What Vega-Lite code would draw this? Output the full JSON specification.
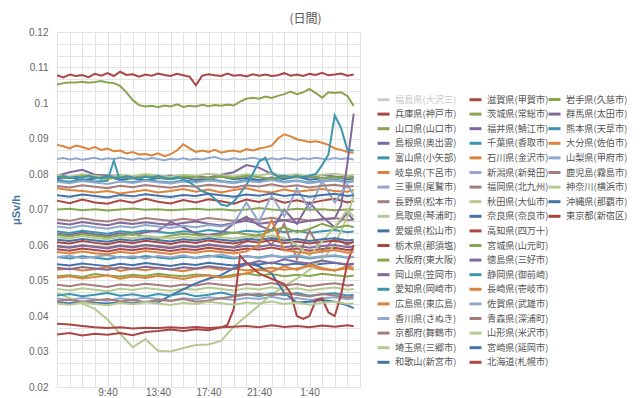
{
"$schema": "https://vega.github.io/schema/vega-lite/v6.json",
"width": 303, "height": 355,
"autosize": {"type": "none"},
"padding": {"left": 57, "top": 32, "right": 280, "bottom": 11},
"background": "white",
"config": {"view": {"stroke": "#e3e3e3"}, "font": "Liberation Sans",
 "legend": {"symbolType": "stroke", "symbolSize": 144, "symbolStrokeWidth": 3, "symbolLimit": 100, "labelFont": "Noto Sans CJK JP", "labelFontSize": 9.2, "labelColor": "#555555", "labelOffset": 4, "labelLimit": 80, "columnPadding": 6, "rowPadding": 0.6}},
"title": {"text": "(日間)", "anchor": "middle", "frame": "group", "dx": 97, "offset": 1, "fontSize": 12, "font": "Noto Sans CJK JP", "fontWeight": "normal", "color": "#555555"},
"data": {"values": [
{"s":"兵庫県(神戸市)","5:40":0.0725,"6:40":0.0718,"7:40":0.0728,"8:40":0.072,"9:40":0.0716,"10:40":0.0726,"11:40":0.0719,"12:40":0.073,"13:40":0.0722,"14:40":0.0717,"15:40":0.0727,"16:40":0.072,"17:40":0.0729,"18:40":0.0723,"19:40":0.0716,"20:40":0.0728,"21:40":0.0721,"22:40":0.0731,"23:40":0.0719,"0:40":0.0726,"1:40":0.0718,"2:40":0.0725,"3:40":0.073,"4:40":0.072,"5:10":0.0724},
{"s":"山口県(山口市)","5:40":0.1052,"6:10":0.1056,"6:40":0.1058,"7:10":0.1058,"7:40":0.106,"8:10":0.1057,"8:40":0.1059,"9:10":0.1062,"9:40":0.1058,"10:10":0.1056,"10:40":0.1048,"11:10":0.103,"11:40":0.1008,"12:10":0.0994,"12:40":0.099,"13:10":0.0992,"13:40":0.0988,"14:10":0.0993,"14:40":0.099,"15:10":0.0996,"15:40":0.0989,"16:10":0.0992,"16:40":0.099,"17:10":0.0995,"17:40":0.0991,"18:10":0.0994,"18:40":0.0992,"19:10":0.0996,"19:40":0.0993,"20:10":0.1004,"20:40":0.1012,"21:10":0.1015,"21:40":0.1012,"22:10":0.1018,"22:40":0.1014,"23:10":0.102,"23:40":0.1025,"0:10":0.1032,"0:40":0.1025,"1:10":0.103,"1:40":0.104,"2:10":0.1028,"2:40":0.1015,"3:10":0.103,"3:40":0.1028,"4:10":0.103,"4:40":0.102,"5:10":0.0992},
{"s":"島根県(奥出雲)","5:40":0.0795,"6:40":0.0805,"7:40":0.0812,"8:40":0.0798,"9:40":0.0796,"10:40":0.0795,"11:40":0.079,"12:40":0.0793,"13:40":0.079,"14:40":0.0796,"15:40":0.0789,"16:40":0.0793,"17:40":0.079,"18:40":0.0798,"19:40":0.0805,"20:40":0.0825,"21:40":0.0818,"22:40":0.08,"23:40":0.0792,"0:40":0.0795,"1:40":0.079,"2:40":0.0797,"3:40":0.0793,"4:40":0.079,"5:10":0.0792},
{"s":"富山県(小矢部)","5:40":0.0638,"6:40":0.0634,"7:40":0.064,"8:40":0.0636,"9:40":0.0632,"10:40":0.0639,"11:40":0.0635,"12:40":0.0641,"13:40":0.0637,"14:40":0.0633,"15:40":0.0639,"16:40":0.0636,"17:40":0.0642,"18:40":0.0638,"19:40":0.0634,"20:40":0.064,"21:40":0.0637,"22:40":0.0643,"23:40":0.0636,"0:40":0.064,"1:40":0.0634,"2:40":0.0639,"3:40":0.0642,"4:40":0.0636,"5:10":0.0638},
{"s":"岐阜県(下呂市)","5:40":0.0882,"6:10":0.0878,"6:40":0.0872,"7:10":0.088,"7:40":0.0876,"8:10":0.087,"8:40":0.0876,"9:10":0.0868,"9:40":0.0872,"10:10":0.0864,"10:40":0.0866,"11:10":0.0858,"11:40":0.0862,"12:10":0.0855,"12:40":0.0856,"13:10":0.0852,"13:40":0.0858,"14:10":0.085,"14:40":0.0856,"15:10":0.0866,"15:40":0.0884,"16:10":0.0872,"16:40":0.0862,"17:10":0.0866,"17:40":0.0862,"18:10":0.0868,"18:40":0.086,"19:10":0.0864,"19:40":0.0866,"20:10":0.0862,"20:40":0.087,"21:10":0.0866,"21:40":0.0872,"22:10":0.0875,"22:40":0.088,"23:10":0.09,"23:40":0.0912,"0:10":0.0906,"0:40":0.0898,"1:10":0.0894,"1:40":0.089,"2:10":0.0892,"2:40":0.0888,"3:10":0.0882,"3:40":0.0872,"4:10":0.0868,"4:40":0.0862,"5:10":0.086},
{"s":"三重県(尾鷲市)","5:40":0.0842,"6:10":0.0845,"6:40":0.0841,"7:10":0.0844,"7:40":0.084,"8:10":0.0843,"8:40":0.0846,"9:10":0.0841,"9:40":0.0844,"10:10":0.0842,"10:40":0.0846,"11:10":0.0843,"11:40":0.084,"12:10":0.0844,"12:40":0.0841,"13:10":0.0845,"13:40":0.0842,"14:10":0.0839,"14:40":0.0843,"15:10":0.0841,"15:40":0.0844,"16:10":0.084,"16:40":0.0843,"17:10":0.0841,"17:40":0.0845,"18:10":0.0848,"18:40":0.0842,"19:10":0.084,"19:40":0.0844,"20:10":0.0841,"20:40":0.0843,"21:10":0.0846,"21:40":0.0842,"22:10":0.084,"22:40":0.0844,"23:10":0.0841,"23:40":0.0845,"0:10":0.0843,"0:40":0.084,"1:10":0.0844,"1:40":0.0842,"2:10":0.0846,"2:40":0.0843,"3:10":0.0841,"3:40":0.0845,"4:10":0.0842,"4:40":0.0844,"5:10":0.0841},
{"s":"長野県(松本市)","5:40":0.0672,"6:40":0.0668,"7:40":0.0675,"8:40":0.067,"9:40":0.0666,"10:40":0.0673,"11:40":0.0669,"12:40":0.0676,"13:40":0.0672,"14:40":0.0668,"15:40":0.0674,"16:40":0.067,"17:40":0.0676,"18:40":0.0672,"19:40":0.0668,"20:40":0.0674,"21:40":0.0671,"22:40":0.0677,"23:40":0.067,"0:40":0.0674,"1:40":0.0668,"2:40":0.0673,"3:40":0.0676,"4:40":0.067,"5:10":0.0672},
{"s":"鳥取県(琴浦町)","5:40":0.0797,"6:40":0.0793,"7:40":0.0799,"8:40":0.0795,"9:40":0.0791,"10:40":0.0798,"11:40":0.0794,"12:40":0.08,"13:40":0.0796,"14:40":0.0792,"15:40":0.0798,"16:40":0.0795,"17:40":0.0801,"18:40":0.0797,"19:40":0.0793,"20:40":0.0799,"21:40":0.0796,"22:40":0.0802,"23:40":0.0795,"0:40":0.0799,"1:40":0.0793,"2:40":0.0798,"3:40":0.0801,"4:40":0.0795,"5:10":0.0797},
{"s":"愛媛県(松山市)","5:40":0.0546,"6:40":0.0542,"7:40":0.0548,"8:40":0.0544,"9:40":0.054,"10:40":0.0547,"11:40":0.0543,"12:40":0.0549,"13:40":0.0545,"14:40":0.0541,"15:40":0.0547,"16:40":0.0544,"17:40":0.055,"18:40":0.0546,"19:40":0.0542,"20:40":0.0548,"21:40":0.0545,"22:40":0.0551,"23:40":0.0544,"0:40":0.0548,"1:40":0.0542,"2:40":0.0547,"3:40":0.055,"4:40":0.0544,"5:10":0.0546},
{"s":"栃木県(那須塩)","5:40":0.0588,"6:40":0.0584,"7:40":0.059,"8:40":0.0586,"9:40":0.0582,"10:40":0.0589,"11:40":0.0585,"12:40":0.0591,"13:40":0.0587,"14:40":0.0583,"15:40":0.0589,"16:40":0.0586,"17:40":0.0592,"18:40":0.0588,"19:40":0.0584,"20:40":0.059,"21:40":0.0587,"22:40":0.0593,"23:40":0.0586,"0:40":0.059,"1:40":0.0584,"2:40":0.0589,"3:40":0.0592,"4:40":0.0586,"5:10":0.0588},
{"s":"大阪府(東大阪)","5:40":0.0512,"6:40":0.0515,"7:40":0.051,"8:40":0.0518,"9:40":0.0514,"10:40":0.0511,"11:40":0.0516,"12:40":0.0513,"13:40":0.0519,"14:40":0.0515,"15:40":0.0512,"16:40":0.0517,"17:40":0.0514,"18:40":0.051,"19:40":0.0516,"20:40":0.052,"21:40":0.0514,"22:40":0.0518,"23:40":0.0512,"0:40":0.0516,"1:40":0.0513,"2:40":0.0519,"3:40":0.0515,"4:40":0.0511,"5:10":0.0514},
{"s":"岡山県(笠岡市)","5:40":0.0632,"6:40":0.0628,"7:40":0.0635,"8:40":0.063,"9:40":0.0626,"10:40":0.0633,"11:40":0.0629,"12:40":0.0636,"13:40":0.064,"14:40":0.0665,"15:40":0.065,"16:40":0.0632,"17:40":0.0628,"18:40":0.0634,"19:40":0.066,"20:40":0.068,"21:40":0.0655,"22:40":0.064,"23:40":0.07,"0:40":0.066,"1:40":0.072,"2:40":0.068,"3:40":0.065,"4:40":0.069,"5:10":0.067},
{"s":"愛知県(岡崎市)","5:40":0.0566,"6:40":0.0562,"7:40":0.0568,"8:40":0.0564,"9:40":0.056,"10:40":0.0567,"11:40":0.0563,"12:40":0.0569,"13:40":0.0565,"14:40":0.0561,"15:40":0.0567,"16:40":0.0564,"17:40":0.057,"18:40":0.0566,"19:40":0.0562,"20:40":0.0568,"21:40":0.0565,"22:40":0.0571,"23:40":0.0564,"0:40":0.0568,"1:40":0.0562,"2:40":0.0567,"3:40":0.057,"4:40":0.0564,"5:10":0.0566},
{"s":"広島県(東広島)","5:40":0.053,"6:40":0.0534,"7:40":0.0528,"8:40":0.0532,"9:40":0.0538,"10:40":0.0527,"11:40":0.0533,"12:40":0.0529,"13:40":0.0535,"14:40":0.0531,"15:40":0.0526,"16:40":0.0533,"17:40":0.0537,"18:40":0.053,"19:40":0.0534,"20:40":0.0528,"21:40":0.0532,"22:40":0.0536,"23:40":0.053,"0:40":0.0534,"1:40":0.054,"2:40":0.0532,"3:40":0.0528,"4:40":0.0535,"5:10":0.053},
{"s":"香川県(さぬき)","5:40":0.0449,"6:40":0.0445,"7:40":0.0451,"8:40":0.0447,"9:40":0.0443,"10:40":0.045,"11:40":0.0446,"12:40":0.0452,"13:40":0.0448,"14:40":0.0444,"15:40":0.045,"16:40":0.0447,"17:40":0.0453,"18:40":0.0449,"19:40":0.0445,"20:40":0.0451,"21:40":0.0448,"22:40":0.0454,"23:40":0.0447,"0:40":0.0451,"1:40":0.0445,"2:40":0.045,"3:40":0.0453,"4:40":0.0447,"5:10":0.0449},
{"s":"京都府(舞鶴市)","5:40":0.0598,"6:40":0.0594,"7:40":0.06,"8:40":0.0596,"9:40":0.0592,"10:40":0.0599,"11:40":0.0595,"12:40":0.0601,"13:40":0.0597,"14:40":0.0593,"15:40":0.0599,"16:40":0.0596,"17:40":0.0602,"18:40":0.0598,"19:40":0.0594,"20:40":0.061,"21:40":0.063,"22:40":0.06,"23:40":0.066,"0:40":0.056,"1:40":0.064,"2:40":0.058,"3:40":0.062,"4:40":0.06,"5:10":0.061},
{"s":"埼玉県(三郷市)","5:40":0.0465,"6:40":0.045,"7:40":0.0435,"8:40":0.042,"9:40":0.039,"10:40":0.035,"11:40":0.0312,"12:40":0.0335,"13:40":0.0302,"14:40":0.03,"15:40":0.031,"16:40":0.0318,"17:40":0.032,"18:40":0.033,"19:40":0.037,"20:40":0.04,"21:40":0.043,"22:40":0.046,"23:40":0.0485,"0:40":0.0505,"1:40":0.053,"2:40":0.056,"3:40":0.06,"4:40":0.068,"5:10":0.074},
{"s":"和歌山(新宮市)","5:40":0.0786,"6:40":0.079,"7:40":0.0783,"8:40":0.0787,"9:40":0.0792,"10:40":0.0784,"11:40":0.0788,"12:40":0.0782,"13:40":0.0789,"14:40":0.0785,"15:40":0.0791,"16:40":0.0783,"17:40":0.0787,"18:40":0.0793,"19:40":0.0785,"20:40":0.0789,"21:40":0.0783,"22:40":0.079,"23:40":0.0786,"0:40":0.0792,"1:40":0.0784,"2:40":0.0788,"3:40":0.0791,"4:40":0.0785,"5:10":0.0787},
{"s":"滋賀県(甲賀市)","5:40":0.1078,"6:10":0.1072,"6:40":0.108,"7:10":0.1076,"7:40":0.1079,"8:10":0.1073,"8:40":0.1082,"9:10":0.1077,"9:40":0.1084,"10:10":0.1076,"10:40":0.1088,"11:10":0.1079,"11:40":0.1081,"12:10":0.1074,"12:40":0.108,"13:10":0.1077,"13:40":0.1083,"14:10":0.1079,"14:40":0.1076,"15:10":0.1082,"15:40":0.1078,"16:10":0.1074,"16:40":0.105,"17:10":0.1077,"17:40":0.1081,"18:10":0.1078,"18:40":0.1076,"19:10":0.1083,"19:40":0.1077,"20:10":0.1079,"20:40":0.1075,"21:10":0.1081,"21:40":0.1077,"22:10":0.108,"22:40":0.1076,"23:10":0.1078,"23:40":0.1084,"0:10":0.1077,"0:40":0.108,"1:10":0.1076,"1:40":0.1082,"2:10":0.1079,"2:40":0.1085,"3:10":0.1078,"3:40":0.108,"4:10":0.1083,"4:40":0.1077,"5:10":0.108},
{"s":"茨城県(常総市)","5:40":0.07,"6:40":0.0702,"7:40":0.0698,"8:40":0.0701,"9:40":0.0697,"10:40":0.07,"11:40":0.0703,"12:40":0.0699,"13:40":0.0701,"14:40":0.0698,"15:40":0.07,"16:40":0.0702,"17:40":0.0699,"18:40":0.0701,"19:40":0.0697,"20:40":0.07,"21:40":0.0704,"22:40":0.07,"23:40":0.0698,"0:40":0.0702,"1:40":0.0699,"2:40":0.0701,"3:40":0.0698,"4:40":0.07,"5:10":0.0699},
{"s":"福井県(鯖江市)","5:40":0.0596,"6:40":0.0592,"7:40":0.0598,"8:40":0.0594,"9:40":0.059,"10:40":0.0597,"11:40":0.0593,"12:40":0.0599,"13:40":0.0595,"14:40":0.0591,"15:40":0.0597,"16:40":0.0594,"17:40":0.06,"18:40":0.0596,"19:40":0.0592,"20:40":0.0598,"21:40":0.0595,"22:40":0.0601,"23:40":0.0594,"0:40":0.0598,"1:40":0.0592,"2:40":0.0597,"3:40":0.06,"4:40":0.0594,"5:10":0.0596},
{"s":"千葉県(香取市)","5:40":0.0782,"6:40":0.0778,"7:40":0.0784,"8:40":0.0779,"9:40":0.0781,"10:10":0.0838,"10:40":0.078,"11:40":0.0777,"12:40":0.0783,"13:40":0.0779,"14:40":0.0776,"15:40":0.0782,"16:40":0.0778,"17:40":0.0785,"18:40":0.078,"19:40":0.0776,"20:40":0.0783,"21:40":0.0779,"22:40":0.0786,"23:40":0.0778,"0:40":0.0782,"1:40":0.0776,"2:40":0.0781,"3:40":0.0784,"4:40":0.0778,"5:10":0.078},
{"s":"石川県(金沢市)","5:40":0.076,"6:40":0.0755,"7:40":0.0752,"8:40":0.0748,"9:40":0.0752,"10:40":0.0745,"11:40":0.075,"12:40":0.0755,"13:40":0.0748,"14:40":0.0752,"15:40":0.0758,"16:40":0.075,"17:40":0.0756,"18:40":0.0748,"19:40":0.0755,"20:40":0.076,"21:40":0.0752,"22:40":0.0748,"23:40":0.0756,"0:40":0.075,"1:40":0.0754,"2:40":0.0758,"3:40":0.0752,"4:40":0.075,"5:10":0.0755},
{"s":"新潟県(新発田)","5:40":0.0778,"6:40":0.0774,"7:40":0.078,"8:40":0.0776,"9:40":0.0772,"10:40":0.0779,"11:40":0.0775,"12:40":0.0781,"13:40":0.0777,"14:40":0.0773,"15:40":0.0779,"16:40":0.0776,"17:40":0.0782,"18:40":0.0778,"19:40":0.0774,"20:40":0.078,"21:40":0.0777,"22:40":0.0783,"23:40":0.0776,"0:40":0.078,"1:40":0.0774,"2:40":0.0779,"3:40":0.0782,"4:40":0.0776,"5:10":0.0778},
{"s":"福岡県(北九州)","5:40":0.0488,"6:40":0.0484,"7:40":0.049,"8:40":0.0486,"9:40":0.0482,"10:40":0.0489,"11:40":0.0485,"12:40":0.0491,"13:40":0.0487,"14:40":0.0483,"15:40":0.0489,"16:40":0.0486,"17:40":0.0492,"18:40":0.0488,"19:40":0.0484,"20:40":0.049,"21:40":0.0487,"22:40":0.0493,"23:40":0.0486,"0:40":0.049,"1:40":0.0484,"2:40":0.0489,"3:40":0.0492,"4:40":0.0486,"5:10":0.0488},
{"s":"秋田県(大仙市)","5:40":0.0476,"6:40":0.0472,"7:40":0.0478,"8:40":0.0474,"9:40":0.047,"10:40":0.0477,"11:40":0.0473,"12:40":0.0479,"13:40":0.0475,"14:40":0.0471,"15:40":0.0477,"16:40":0.0474,"17:40":0.048,"18:40":0.0476,"19:40":0.0472,"20:40":0.0478,"21:40":0.0475,"22:40":0.0481,"23:40":0.0474,"0:40":0.0478,"1:40":0.0472,"2:40":0.0477,"3:40":0.048,"4:40":0.0474,"5:10":0.0476},
{"s":"奈良県(奈良市)","5:40":0.0438,"6:40":0.0436,"7:40":0.044,"8:40":0.0437,"9:40":0.0435,"10:40":0.0439,"11:40":0.0436,"12:40":0.044,"13:40":0.0438,"14:40":0.0458,"15:40":0.0475,"16:40":0.0492,"17:40":0.0505,"18:40":0.0515,"19:40":0.0535,"20:40":0.055,"21:40":0.054,"22:40":0.052,"23:40":0.0465,"0:40":0.0438,"1:40":0.044,"2:40":0.0445,"3:40":0.044,"4:40":0.043,"5:10":0.0422},
{"s":"高知県(四万十)","5:40":0.0608,"6:40":0.0604,"7:40":0.0611,"8:40":0.0606,"9:40":0.0602,"10:40":0.061,"11:40":0.0605,"12:40":0.0612,"13:40":0.0608,"14:40":0.0603,"15:40":0.061,"16:40":0.0606,"17:40":0.0613,"18:40":0.0608,"19:40":0.0604,"20:40":0.0611,"21:40":0.0607,"22:40":0.0614,"23:40":0.0606,"0:40":0.061,"1:40":0.0604,"2:40":0.0609,"3:40":0.0612,"4:40":0.0606,"5:10":0.0608},
{"s":"宮城県(山元町)","5:40":0.0628,"6:40":0.0624,"7:40":0.063,"8:40":0.0626,"9:40":0.0622,"10:40":0.0627,"11:40":0.0631,"12:40":0.0625,"13:40":0.062,"14:40":0.0626,"15:40":0.0632,"16:40":0.0628,"17:40":0.0624,"18:40":0.0629,"19:40":0.0635,"20:40":0.063,"21:40":0.0626,"22:40":0.064,"23:40":0.065,"0:40":0.0636,"1:40":0.0645,"2:40":0.066,"3:40":0.0648,"4:40":0.0655,"5:10":0.065},
{"s":"徳島県(三好市)","5:40":0.0536,"6:40":0.0532,"7:40":0.0538,"8:40":0.0534,"9:40":0.053,"10:40":0.0537,"11:40":0.0533,"12:40":0.0539,"13:40":0.0535,"14:40":0.0531,"15:40":0.0537,"16:40":0.0534,"17:40":0.054,"18:40":0.0536,"19:40":0.0532,"20:40":0.0545,"21:40":0.0555,"22:40":0.0548,"23:40":0.056,"0:40":0.0552,"1:40":0.0548,"2:40":0.0556,"3:40":0.055,"4:40":0.0545,"5:10":0.0548},
{"s":"静岡県(御前崎)","5:40":0.0458,"6:40":0.0462,"7:40":0.0456,"8:40":0.046,"9:40":0.0465,"10:40":0.0457,"11:40":0.0461,"12:40":0.0455,"13:40":0.0462,"14:40":0.0458,"15:40":0.0464,"16:40":0.0456,"17:40":0.046,"18:40":0.0466,"19:40":0.0458,"20:40":0.0462,"21:40":0.0456,"22:40":0.0463,"23:40":0.0459,"0:40":0.0465,"1:40":0.0457,"2:40":0.0461,"3:40":0.0464,"4:40":0.0458,"5:10":0.046},
{"s":"長崎県(壱岐市)","5:40":0.0508,"6:40":0.0512,"7:40":0.0506,"8:40":0.051,"9:40":0.0515,"10:40":0.0505,"11:40":0.0511,"12:40":0.0507,"13:40":0.0513,"14:40":0.0509,"15:40":0.0504,"16:40":0.0511,"17:40":0.0515,"18:40":0.0508,"19:40":0.0512,"20:40":0.052,"21:40":0.053,"22:40":0.0525,"23:40":0.054,"0:40":0.053,"1:40":0.0545,"2:40":0.0535,"3:40":0.0528,"4:40":0.054,"5:10":0.0535},
{"s":"佐賀県(武雄市)","5:40":0.0566,"6:40":0.057,"7:40":0.0563,"8:40":0.0567,"9:40":0.0572,"10:40":0.0564,"11:40":0.0568,"12:40":0.0562,"13:40":0.0569,"14:40":0.0565,"15:40":0.0571,"16:40":0.0563,"17:40":0.0567,"18:40":0.0573,"19:40":0.0565,"20:40":0.0569,"21:40":0.0563,"22:40":0.057,"23:40":0.0566,"0:40":0.0572,"1:40":0.0564,"2:40":0.0568,"3:40":0.0571,"4:40":0.0565,"5:10":0.0567},
{"s":"青森県(深浦町)","5:40":0.0442,"6:40":0.0446,"7:40":0.044,"8:40":0.0444,"9:40":0.0448,"10:40":0.0441,"11:40":0.0445,"12:40":0.0439,"13:40":0.0446,"14:40":0.0442,"15:40":0.0448,"16:40":0.044,"17:40":0.0444,"18:40":0.045,"19:40":0.0455,"20:40":0.046,"21:40":0.0462,"22:40":0.0458,"23:40":0.0465,"0:40":0.046,"1:40":0.0455,"2:40":0.0462,"3:40":0.0458,"4:40":0.0452,"5:10":0.0455},
{"s":"山形県(米沢市)","5:40":0.0622,"6:40":0.0618,"7:40":0.0625,"8:40":0.062,"9:40":0.0616,"10:40":0.0623,"11:40":0.0619,"12:40":0.0626,"13:40":0.0622,"14:40":0.0618,"15:40":0.0624,"16:40":0.062,"17:40":0.0626,"18:40":0.0622,"19:40":0.0618,"20:40":0.0624,"21:40":0.0621,"22:40":0.0627,"23:40":0.062,"0:40":0.06,"1:40":0.057,"2:40":0.061,"3:40":0.065,"4:40":0.07,"5:10":0.068},
{"s":"宮崎県(延岡市)","5:40":0.0615,"6:40":0.0611,"7:40":0.0617,"8:40":0.0613,"9:40":0.0609,"10:40":0.0616,"11:40":0.0612,"12:40":0.0618,"13:40":0.0614,"14:40":0.061,"15:40":0.0616,"16:40":0.0613,"17:40":0.0619,"18:40":0.0615,"19:40":0.0611,"20:40":0.0617,"21:40":0.0614,"22:40":0.062,"23:40":0.0613,"0:40":0.0617,"1:40":0.0611,"2:40":0.0616,"3:40":0.0619,"4:40":0.0613,"5:10":0.0615},
{"s":"北海道(札幌市)","5:40":0.0348,"6:40":0.0352,"7:40":0.0345,"8:40":0.035,"9:40":0.0347,"10:40":0.0352,"11:40":0.0346,"12:40":0.0355,"13:40":0.0358,"14:40":0.0362,"15:40":0.0358,"16:40":0.0363,"17:40":0.036,"18:40":0.0368,"19:10":0.0375,"19:40":0.042,"20:10":0.057,"20:40":0.055,"21:10":0.0535,"21:40":0.052,"22:40":0.0505,"23:40":0.049,"0:10":0.0465,"0:40":0.04,"1:10":0.0392,"1:40":0.04,"2:10":0.0445,"2:40":0.045,"3:10":0.041,"3:40":0.04,"4:10":0.046,"4:40":0.055,"5:10":0.06},
{"s":"岩手県(久慈市)","5:40":0.0792,"6:40":0.0788,"7:40":0.0795,"8:40":0.079,"9:40":0.0786,"10:40":0.0792,"11:40":0.0789,"12:40":0.0794,"13:40":0.0791,"14:40":0.0787,"15:40":0.0793,"16:40":0.079,"17:40":0.0788,"18:40":0.0792,"19:40":0.0789,"20:40":0.0795,"21:40":0.0791,"22:40":0.0787,"23:40":0.0792,"0:40":0.079,"1:40":0.0794,"2:40":0.0788,"3:40":0.0791,"4:40":0.0789,"5:10":0.079},
{"s":"群馬県(太田市)","5:40":0.0662,"6:40":0.0658,"7:40":0.0665,"8:40":0.066,"9:40":0.0656,"10:40":0.0663,"11:40":0.0659,"12:40":0.0664,"13:40":0.066,"14:40":0.0657,"15:40":0.0662,"16:40":0.0666,"17:40":0.066,"18:40":0.0655,"19:40":0.0662,"20:40":0.0668,"21:40":0.066,"22:40":0.0664,"23:40":0.067,"0:40":0.0662,"1:40":0.0668,"2:40":0.0672,"3:40":0.0675,"4:10":0.071,"4:40":0.083,"5:10":0.097},
{"s":"熊本県(天草市)","5:40":0.079,"6:10":0.0794,"6:40":0.0788,"7:10":0.0792,"7:40":0.0789,"8:10":0.0795,"8:40":0.0791,"9:10":0.0787,"9:40":0.0793,"10:10":0.079,"10:40":0.0788,"11:10":0.0794,"11:40":0.079,"12:10":0.0786,"12:40":0.0792,"13:10":0.0789,"13:40":0.0795,"14:10":0.079,"14:40":0.0787,"15:10":0.0791,"15:40":0.0785,"16:10":0.0776,"16:40":0.0764,"17:10":0.0752,"17:40":0.0745,"18:10":0.073,"18:40":0.0714,"19:10":0.071,"19:40":0.0722,"20:10":0.0745,"20:40":0.077,"21:10":0.08,"21:40":0.0835,"22:10":0.0846,"22:40":0.0805,"23:10":0.0792,"23:40":0.0796,"0:10":0.079,"0:40":0.0794,"1:10":0.0791,"1:40":0.0796,"2:10":0.08,"2:40":0.0825,"3:10":0.0855,"3:40":0.0965,"4:10":0.093,"4:40":0.0868,"5:10":0.0866},
{"s":"大分県(佐伯市)","5:40":0.058,"6:40":0.0576,"7:40":0.0582,"8:40":0.0577,"9:40":0.0574,"10:40":0.0581,"11:40":0.0577,"12:40":0.0583,"13:40":0.0579,"14:40":0.0575,"15:40":0.0581,"16:40":0.0578,"17:40":0.0584,"18:40":0.058,"19:40":0.0576,"20:40":0.0582,"21:40":0.06,"22:40":0.067,"23:40":0.0585,"0:40":0.058,"1:40":0.0576,"2:40":0.0582,"3:40":0.0586,"4:40":0.0578,"5:10":0.058},
{"s":"山梨県(甲府市)","5:40":0.0652,"6:40":0.0648,"7:40":0.0655,"8:40":0.065,"9:40":0.0646,"10:40":0.0653,"11:40":0.0649,"12:40":0.0656,"13:40":0.0652,"14:40":0.0648,"15:40":0.0654,"16:40":0.065,"17:40":0.0656,"18:40":0.0652,"19:40":0.066,"20:40":0.072,"21:40":0.0665,"22:40":0.074,"23:40":0.068,"0:40":0.076,"1:40":0.07,"2:40":0.078,"3:40":0.072,"4:40":0.077,"5:10":0.074},
{"s":"鹿児島(霧島市)","5:40":0.0766,"6:40":0.0762,"7:40":0.0768,"8:40":0.0764,"9:40":0.076,"10:40":0.0767,"11:40":0.0763,"12:40":0.0769,"13:40":0.0765,"14:40":0.0761,"15:40":0.0767,"16:40":0.0764,"17:40":0.077,"18:40":0.0766,"19:40":0.0762,"20:40":0.0768,"21:40":0.0765,"22:40":0.0771,"23:40":0.0764,"0:40":0.0768,"1:40":0.0762,"2:40":0.0767,"3:40":0.077,"4:40":0.0764,"5:10":0.0766},
{"s":"神奈川(横浜市)","5:40":0.0435,"6:40":0.0432,"7:40":0.0438,"8:40":0.0434,"9:40":0.043,"10:40":0.0437,"11:40":0.0433,"12:40":0.0439,"13:40":0.0435,"14:40":0.0431,"15:40":0.0437,"16:40":0.0434,"17:40":0.044,"18:40":0.0436,"19:40":0.0432,"20:40":0.0438,"21:40":0.0435,"22:40":0.0441,"23:40":0.0434,"0:40":0.0438,"1:40":0.0432,"2:40":0.0437,"3:40":0.044,"4:40":0.0434,"5:10":0.0436},
{"s":"沖縄県(那覇市)","5:40":0.074,"6:40":0.0736,"7:40":0.0742,"8:40":0.0738,"9:40":0.0734,"10:40":0.0741,"11:40":0.0737,"12:40":0.0743,"13:40":0.0739,"14:40":0.0735,"15:40":0.0741,"16:40":0.0738,"17:40":0.0744,"18:40":0.074,"19:40":0.0736,"20:40":0.0742,"21:40":0.0739,"22:40":0.0745,"23:40":0.0738,"0:40":0.0742,"1:40":0.0736,"2:40":0.0741,"3:40":0.0744,"4:40":0.0738,"5:10":0.074},
{"s":"東京都(新宿区)","5:40":0.0378,"6:40":0.0376,"7:40":0.0372,"8:40":0.0368,"9:40":0.0366,"10:40":0.0368,"11:40":0.0365,"12:40":0.0367,"13:40":0.0366,"14:40":0.0368,"15:40":0.0366,"16:40":0.0369,"17:40":0.0366,"18:40":0.0368,"19:40":0.037,"20:40":0.0372,"21:40":0.0368,"22:40":0.0374,"23:40":0.0369,"0:40":0.0372,"1:40":0.0368,"2:40":0.0373,"3:40":0.037,"4:40":0.0374,"5:10":0.0371}
]},
"transform": [
{"fold": ["5:40","6:10","6:40","7:10","7:40","8:10","8:40","9:10","9:40","10:10","10:40","11:10","11:40","12:10","12:40","13:10","13:40","14:10","14:40","15:10","15:40","16:10","16:40","17:10","17:40","18:10","18:40","19:10","19:40","20:10","20:40","21:10","21:40","22:10","22:40","23:10","23:40","0:10","0:40","1:10","1:40","2:10","2:40","3:10","3:40","4:10","4:40","5:10"], "as": ["t", "v"]},
{"filter": "datum.v != null"}
],
"encoding": {
"x": {"field": "t", "type": "ordinal",
 "sort": ["5:40","6:10","6:40","7:10","7:40","8:10","8:40","9:10","9:40","10:10","10:40","11:10","11:40","12:10","12:40","13:10","13:40","14:10","14:40","15:10","15:40","16:10","16:40","17:10","17:40","18:10","18:40","19:10","19:40","20:10","20:40","21:10","21:40","22:10","22:40","23:10","23:40","0:10","0:40","1:10","1:40","2:10","2:40","3:10","3:40","4:10","4:40","5:10"],
 "scale": {"type": "point", "domain": ["5:40","6:10","6:40","7:10","7:40","8:10","8:40","9:10","9:40","10:10","10:40","11:10","11:40","12:10","12:40","13:10","13:40","14:10","14:40","15:10","15:40","16:10","16:40","17:10","17:40","18:10","18:40","19:10","19:40","20:10","20:40","21:10","21:40","22:10","22:40","23:10","23:40","0:10","0:40","1:10","1:40","2:10","2:40","3:10","3:40","4:10","4:40","5:10"], "padding": 0.5, "align": 0},
 "axis": {"values": ["5:40","6:40","7:40","8:40","9:40","10:40","11:40","12:40","13:40","14:40","15:40","16:40","17:40","18:40","19:40","20:40","21:40","22:40","23:40","0:40","1:40","2:40","3:40","4:40"],
  "labelExpr": "indexof(['9:40','13:40','17:40','21:40','1:40'], datum.value) >= 0 ? datum.value : ''",
  "grid": true, "gridColor": "#e3e3e3", "ticks": false, "domain": false, "labelAngle": 0, "labelOverlap": false,
  "labelFont": "Liberation Sans", "labelFontSize": 10, "labelColor": "#666666", "labelPadding": 0, "title": null}},
"y": {"field": "v", "type": "quantitative",
 "scale": {"domain": [0.02, 0.12], "nice": false, "zero": false},
 "axis": {"values": [0.02,0.023333,0.026667,0.03,0.033333,0.036667,0.04,0.043333,0.046667,0.05,0.053333,0.056667,0.06,0.063333,0.066667,0.07,0.073333,0.076667,0.08,0.083333,0.086667,0.09,0.093333,0.096667,0.1,0.103333,0.106667,0.11,0.113333,0.116667,0.12],
  "labelExpr": "round(datum.value*1000) % 10 == 0 ? format(datum.value, '~g') : ''",
  "grid": true, "gridColor": "#e3e3e3", "ticks": false, "domain": false, "labelOverlap": false,
  "labelFont": "Liberation Sans", "labelFontSize": 10, "labelColor": "#666666", "labelPadding": 9,
  "title": "μSv/h", "titleColor": "#4d759e", "titleFont": "Liberation Sans", "titleFontSize": 11, "titleFontWeight": "bold", "titlePadding": 7}}
},
"layer": [
{"transform": [{"filter": {"not": {"field": "s", "oneOf": ["岩手県(久慈市)","群馬県(太田市)","熊本県(天草市)","大分県(佐伯市)","山梨県(甲府市)","鹿児島(霧島市)","神奈川(横浜市)","沖縄県(那覇市)","東京都(新宿区)"]}}}],
 "mark": {"type": "line", "strokeWidth": 2},
 "encoding": {"color": {"field": "s", "type": "nominal",
  "scale": {
   "domain": ["福島県(大沢三)","兵庫県(神戸市)","山口県(山口市)","島根県(奥出雲)","富山県(小矢部)","岐阜県(下呂市)","三重県(尾鷲市)","長野県(松本市)","鳥取県(琴浦町)","愛媛県(松山市)","栃木県(那須塩)","大阪府(東大阪)","岡山県(笠岡市)","愛知県(岡崎市)","広島県(東広島)","香川県(さぬき)","京都府(舞鶴市)","埼玉県(三郷市)","和歌山(新宮市)","滋賀県(甲賀市)","茨城県(常総市)","福井県(鯖江市)","千葉県(香取市)","石川県(金沢市)","新潟県(新発田)","福岡県(北九州)","秋田県(大仙市)","奈良県(奈良市)","高知県(四万十)","宮城県(山元町)","徳島県(三好市)","静岡県(御前崎)","長崎県(壱岐市)","佐賀県(武雄市)","青森県(深浦町)","山形県(米沢市)","宮崎県(延岡市)","北海道(札幌市)"],
   "range": ["#cccccc","#AA4643","#89A54E","#80699B","#3D96AE","#DB843D","#92A8CD","#A47D7C","#B5CA92","#4572A7","#AA4643","#89A54E","#80699B","#3D96AE","#DB843D","#92A8CD","#A47D7C","#B5CA92","#4572A7","#AA4643","#89A54E","#80699B","#3D96AE","#DB843D","#92A8CD","#A47D7C","#B5CA92","#4572A7","#AA4643","#89A54E","#80699B","#3D96AE","#DB843D","#92A8CD","#A47D7C","#B5CA92","#4572A7","#AA4643"]},
  "legend": {"orient": "none", "legendX": 319, "legendY": 60, "columns": 2, "title": null,
   "encode": {"labels": {"update": {"fill": {"signal": "datum.value == '福島県(大沢三)' ? '#c8c8c8' : '#555555'"}}}}}}}},
{"transform": [{"filter": {"field": "s", "oneOf": ["岩手県(久慈市)","群馬県(太田市)","熊本県(天草市)","大分県(佐伯市)","山梨県(甲府市)","鹿児島(霧島市)","神奈川(横浜市)","沖縄県(那覇市)","東京都(新宿区)"]}}],
 "mark": {"type": "line", "strokeWidth": 2},
 "encoding": {"stroke": {"field": "s", "type": "nominal",
  "scale": {
   "domain": ["岩手県(久慈市)","群馬県(太田市)","熊本県(天草市)","大分県(佐伯市)","山梨県(甲府市)","鹿児島(霧島市)","神奈川(横浜市)","沖縄県(那覇市)","東京都(新宿区)"],
   "range": ["#89A54E","#80699B","#3D96AE","#DB843D","#92A8CD","#A47D7C","#B5CA92","#4572A7","#AA4643"]},
  "legend": {"orient": "none", "legendX": 490, "legendY": 60, "columns": 1, "title": null}}}}
]
}
